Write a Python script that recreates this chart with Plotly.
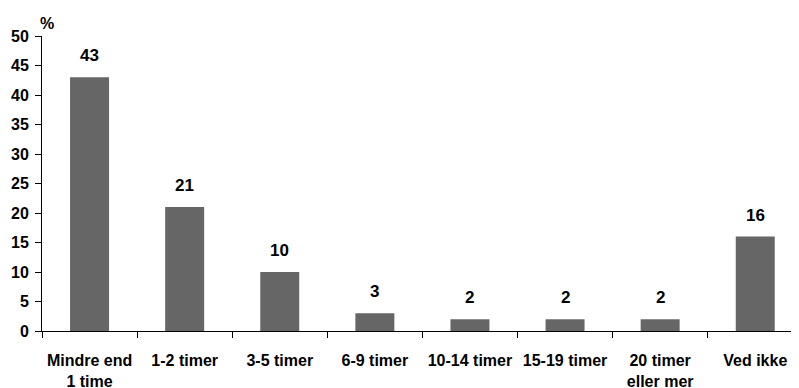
import plotly.graph_objects as go

categories = ["Mindre end<br>1 time", "1-2 timer", "3-5 timer", "6-9 timer",
              "10-14 timer", "15-19 timer", "20 timer<br>eller mer", "Ved ikke"]
values = [43, 21, 10, 3, 2, 2, 2, 16]
y_ticks = [0, 5, 10, 15, 20, 25, 30, 35, 40, 45, 50]

FAM = "Liberation Sans, Arial, sans-serif"
NARROW = "Liberation Sans Narrow, Arial Narrow, Liberation Sans, sans-serif"

fig = go.Figure(go.Bar(x=categories, y=values, marker=dict(color="#666666", line=dict(width=0)),
                       hoverinfo="skip"))

for c, v in zip(categories, values):
    fig.add_annotation(x=c, y=v, text=f"<b>{v}</b>", showarrow=False, yanchor="bottom",
                       yshift=10, font=dict(family=NARROW, size=17, color="black"))

fig.add_annotation(xref="paper", yref="paper", x=0, y=1, text="<b>%</b>", showarrow=False,
                   xanchor="left", yanchor="bottom", xshift=-4, yshift=2,
                   font=dict(family=NARROW, size=16, color="black"))

fig.update_layout(
    width=791, height=380,
    margin=dict(l=34, r=0, t=28, b=57, autoexpand=False),
    paper_bgcolor="white", plot_bgcolor="white",
    bargap=0.59,
    showlegend=False,
    font=dict(family=FAM, size=16, color="black"),
)
fig.update_xaxes(
    type="category", range=[-0.5, 7.46], automargin=False,
    showline=True, linecolor="black", linewidth=1,
    ticks="outside", tickson="boundaries", ticklen=6, tickcolor="black",
    tickfont=dict(family=FAM, size=16, color="black"),
    tickprefix="<b>", ticksuffix="</b>",
    ticklabelstandoff=15,
    showgrid=False, zeroline=False,
)
fig.update_yaxes(
    range=[0, 50], tickvals=y_ticks, ticktext=[f"<b>{t}</b>" for t in y_ticks],
    automargin=False,
    showline=True, linecolor="black", linewidth=1,
    ticks="outside", ticklen=6, tickcolor="black",
    tickfont=dict(family=FAM, size=16, color="black"),
    ticklabelstandoff=3,
    showgrid=False, zeroline=False,
)

fig.write_html("out.html")
